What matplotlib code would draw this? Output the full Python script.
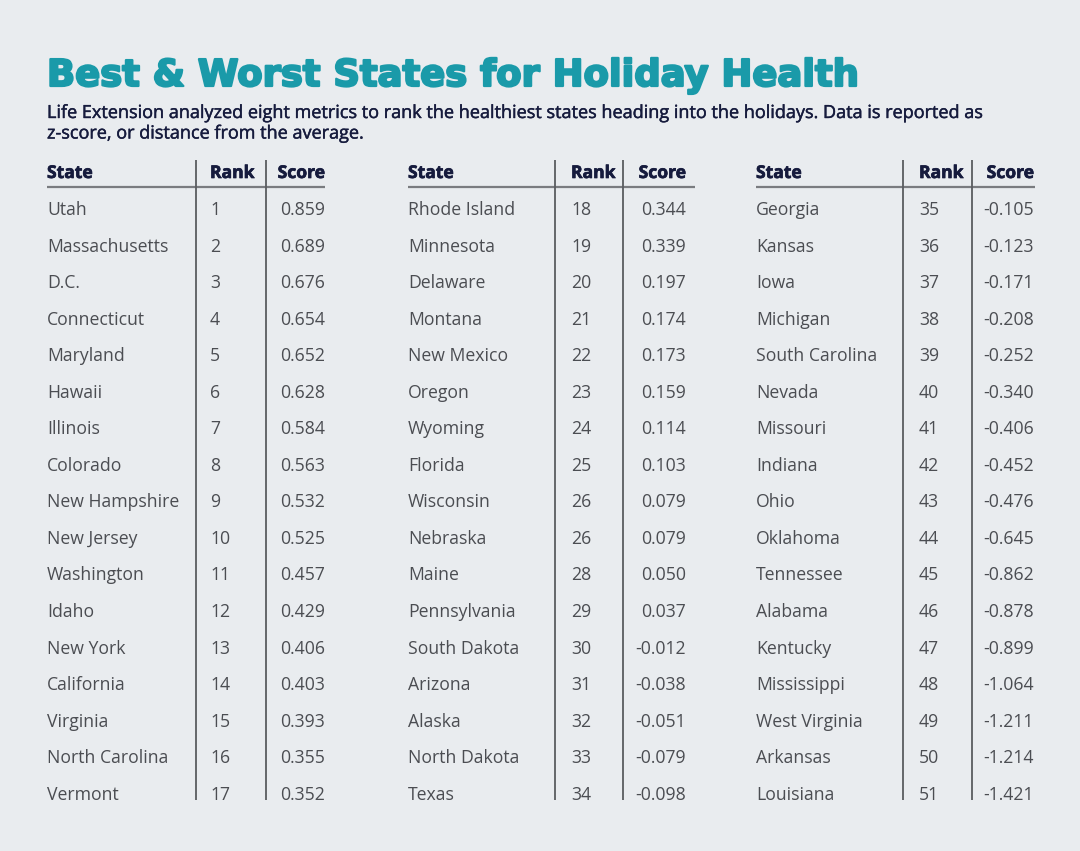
import matplotlib
matplotlib.use("Agg")
import matplotlib.pyplot as plt
import matplotlib.patheffects as pe

states = ["Utah", "Massachusetts", "D.C.", "Connecticut", "Maryland", "Hawaii", "Illinois",
          "Colorado", "New Hampshire", "New Jersey", "Washington", "Idaho", "New York",
          "California", "Virginia", "North Carolina", "Vermont",
          "Rhode Island", "Minnesota", "Delaware", "Montana", "New Mexico", "Oregon",
          "Wyoming", "Florida", "Wisconsin", "Nebraska", "Maine", "Pennsylvania",
          "South Dakota", "Arizona", "Alaska", "North Dakota", "Texas",
          "Georgia", "Kansas", "Iowa", "Michigan", "South Carolina", "Nevada", "Missouri",
          "Indiana", "Ohio", "Oklahoma", "Tennessee", "Alabama", "Kentucky", "Mississippi",
          "West Virginia", "Arkansas", "Louisiana"]
ranks = [1, 2, 3, 4, 5, 6, 7, 8, 9, 10, 11, 12, 13, 14, 15, 16, 17,
         18, 19, 20, 21, 22, 23, 24, 25, 26, 26, 28, 29, 30, 31, 32, 33, 34,
         35, 36, 37, 38, 39, 40, 41, 42, 43, 44, 45, 46, 47, 48, 49, 50, 51]
scores = ["0.859", "0.689", "0.676", "0.654", "0.652", "0.628", "0.584", "0.563", "0.532",
          "0.525", "0.457", "0.429", "0.406", "0.403", "0.393", "0.355", "0.352",
          "0.344", "0.339", "0.197", "0.174", "0.173", "0.159", "0.114", "0.103", "0.079",
          "0.079", "0.050", "0.037", "-0.012", "-0.038", "-0.051", "-0.079", "-0.098",
          "-0.105", "-0.123", "-0.171", "-0.208", "-0.252", "-0.340", "-0.406", "-0.452",
          "-0.476", "-0.645", "-0.862", "-0.878", "-0.899", "-1.064", "-1.211", "-1.214",
          "-1.421"]
headers = ["State", "Rank", "Score"]
title = "Best & Worst States for Holiday Health"
subtitle = ("Life Extension analyzed eight metrics to rank the healthiest states heading into the holidays. Data is reported as\n"
            "z-score, or distance from the average.")

W, H = 1080, 851
fig = plt.figure(figsize=(W / 100, H / 100), dpi=100)
fig.patch.set_facecolor("#e9ecef")
ax = fig.add_axes([0, 0, 1, 1])
ax.set_xlim(0, W)
ax.set_ylim(H, 0)
ax.axis("off")

body_font = ["Open Sans", "DejaVu Sans"]
navy = "#161b3d"
gray = "#4b4d52"
teal = "#1a9aa9"

ax.text(47, 86, title, fontsize=26.6, fontweight="heavy", color=teal,
        family=["DejaVu Sans"], va="baseline", ha="left",
        path_effects=[pe.withStroke(linewidth=1.6, foreground=teal)])
ax.text(47, 104, subtitle, fontsize=13.0, color=navy, family=body_font,
        va="top", ha="left", linespacing=1.18,
        path_effects=[pe.withStroke(linewidth=0.3, foreground=navy)])

blocks = [
    dict(x_state=47, x_rank=210, x_score=325, v1=196, v2=266, hl=(47, 325)),
    dict(x_state=408, x_rank=571, x_score=686, v1=555, v2=623, hl=(408, 695)),
    dict(x_state=756, x_rank=919, x_score=1034, v1=903, v2=972, hl=(756, 1035)),
]
per_block = 17
row0 = 210
row_h = 36.55
for b, blk in enumerate(blocks):
    for txt, x, ha in zip(headers, (blk["x_state"], blk["x_rank"], blk["x_score"]),
                          ("left", "left", "right")):
        ax.text(x, 173, txt, fontsize=12.6, fontweight="bold", color=navy,
                family=body_font, va="center", ha=ha,
                path_effects=[pe.withStroke(linewidth=0.5, foreground=navy)])
    ax.plot(blk["hl"], [187, 187], color="#7a7c80", lw=1.6, solid_capstyle="butt")
    for vx in (blk["v1"], blk["v2"]):
        ax.plot([vx, vx], [160, 800], color="#5a5c60", lw=1.3, solid_capstyle="butt")
    for i in range(per_block):
        k = b * per_block + i
        y = row0 + i * row_h
        ax.text(blk["x_state"], y, states[k], fontsize=12.7, color=gray,
                family=body_font, va="center", ha="left")
        ax.text(blk["x_rank"], y, str(ranks[k]), fontsize=12.7, color=gray,
                family=body_font, va="center", ha="left")
        ax.text(blk["x_score"], y, scores[k], fontsize=12.7, color=gray,
                family=body_font, va="center", ha="right")

fig.savefig("out.png", dpi=100, facecolor=fig.get_facecolor())
